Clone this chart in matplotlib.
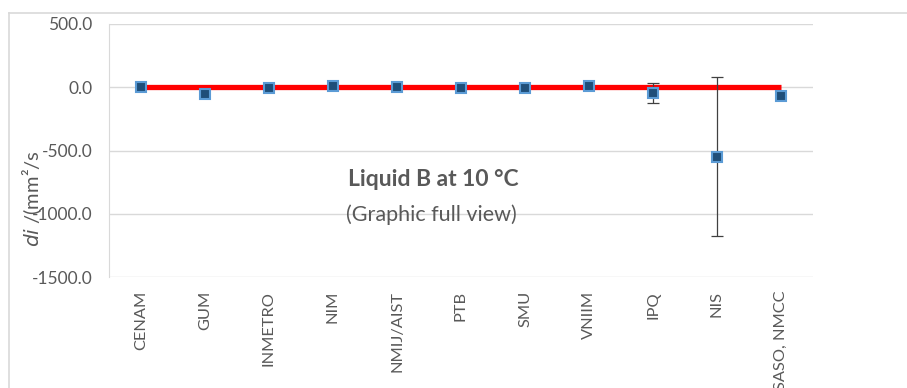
import numpy as np
import matplotlib.pyplot as plt
from matplotlib.lines import Line2D

# data
labs = ["CENAM", "GUM", "INMETRO", "NIM", "NMIJ/AIST", "PTB", "SMU",
        "VNIIM", "IPQ", "NIS", "SASO, NMCC"]
di = [0, -55, -5, 8, 0, -5, -3, 8, -45, -548, -73]
unc = [0, 0, 0, 0, 0, 0, 0, 0, 78, 630, 0]
ref = [0] * len(labs)
yticks = [500, 0, -500, -1000, -1500]

plt.rcParams["font.family"] = ["Lato", "DejaVu Sans"]
grey = "#595959"

fig = plt.figure(figsize=(9.07, 3.88), dpi=100)
ax = fig.add_axes([109 / 907, 1 - 277 / 388, 704 / 907, 253 / 388])

x = np.arange(len(labs))

# outer chart frame (only top and left edges are in view)
fig.add_artist(Line2D([8.5 / 907, 1], [1 - 12.5 / 388] * 2, color="#d9d9d9", lw=1.2))
fig.add_artist(Line2D([8.5 / 907] * 2, [0, 1 - 12.5 / 388], color="#d9d9d9", lw=1.2))

ax.plot(x, ref, color="red", lw=3.8, zorder=2, solid_capstyle="butt")

# error bars only where an uncertainty is given
m = np.array(unc) > 0
ax.errorbar(x[m], np.array(di)[m], yerr=np.array(unc)[m], fmt="none",
            ecolor="#404040", elinewidth=0.9, capsize=4.5, capthick=0.9, zorder=3)
ax.plot(x, di, ls="none", marker="s", ms=7.5, mfc="#1F4E79", mec="#5B9BD5",
        mew=1.5, zorder=4)

ax.set_xlim(-0.5, len(labs) - 0.5)
ax.set_ylim(-1500, 500)
ax.set_yticks(yticks)
ax.set_yticklabels([f"{v:.1f}" for v in yticks], color=grey, fontsize=12.5)
ax.set_xticks(x)
ax.set_xticklabels(labs, rotation=90, color=grey, fontsize=11.8, va="top")
ax.tick_params(length=0, pad=10)
ax.tick_params(axis="y", pad=12)
ax.grid(axis="y", color="#d9d9d9", lw=1)
ax.set_axisbelow(True)
for s in ["top", "right", "bottom"]:
    ax.spines[s].set_visible(False)
ax.spines["left"].set_color("#d9d9d9")

fig.text(32 / 907, 1 - 199 / 388, r"$\it{di}$ /(mm²/s", rotation=90,
         ha="center", va="center", color=grey, fontsize=14.5)
fig.text(433 / 907, 1 - 179 / 388, "Liquid B at 10 °C", ha="center",
         va="center", color=grey, fontsize=16.5, fontweight="bold")
fig.text(431 / 907, 1 - 215 / 388, "(Graphic full view)", ha="center",
         va="center", color=grey, fontsize=15.5)

fig.savefig("out.png", dpi=100)
